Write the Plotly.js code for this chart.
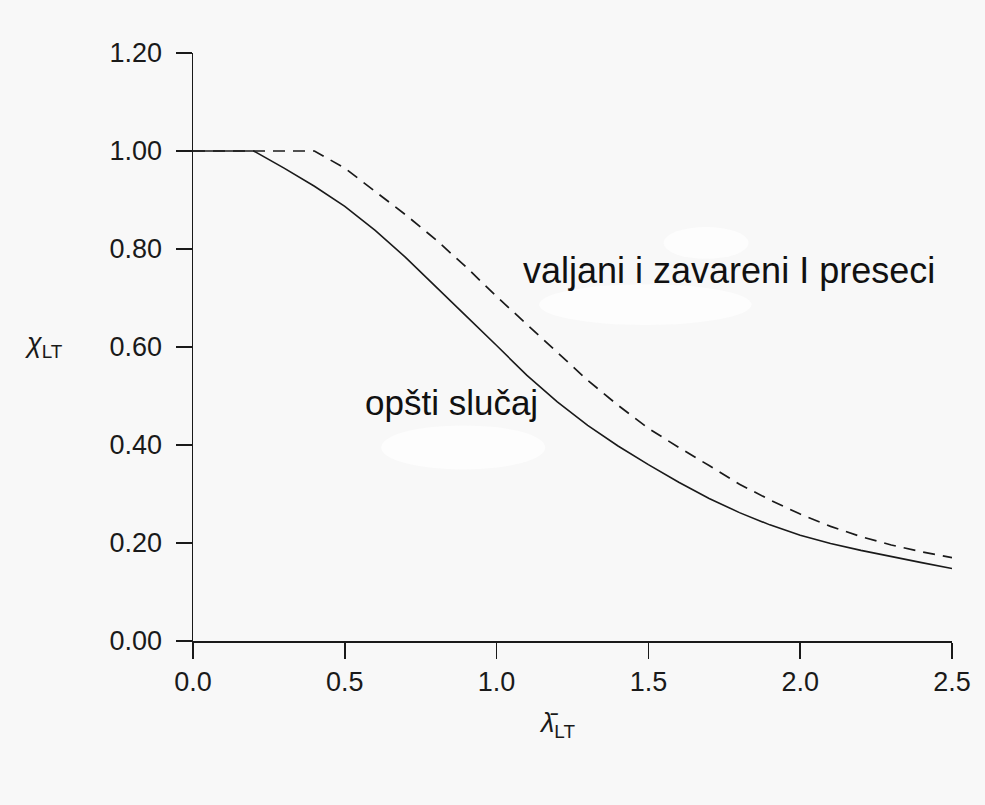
<!DOCTYPE html>
<html>
<head>
<meta charset="utf-8">
<script src="https://cdn.plot.ly/plotly-3.0.1.min.js"></script>
<style>html,body{margin:0;padding:0;background:#f8f8f8;}#chart{width:985px;height:805px;}</style>
</head>
<body>
<div id="chart"></div>
<script>
// lambda_LT values
const lambdaSolid = [0.0, 0.2, 0.3, 0.4, 0.5, 0.6, 0.7, 0.8, 0.9, 1.0, 1.1, 1.2, 1.3, 1.4, 1.5, 1.6, 1.7, 1.8, 1.9, 2.0, 2.1, 2.2, 2.3, 2.4, 2.5];
// "opšti slučaj" (general case)
const chiGeneral = [1.0, 1.0, 0.965, 0.928, 0.887, 0.838, 0.783, 0.724, 0.663, 0.603, 0.542, 0.488, 0.440, 0.398, 0.360, 0.324, 0.291, 0.262, 0.237, 0.216, 0.199, 0.185, 0.172, 0.160, 0.148];
const lambdaDashed = [0.0, 0.4, 0.5, 0.6, 0.7, 0.8, 0.9, 1.0, 1.1, 1.2, 1.3, 1.4, 1.5, 1.6, 1.7, 1.8, 1.9, 2.0, 2.1, 2.2, 2.3, 2.4, 2.5];
// "valjani i zavareni I preseci" (rolled and welded I sections)
const chiRolled = [1.0, 1.0, 0.965, 0.918, 0.870, 0.819, 0.763, 0.703, 0.645, 0.589, 0.532, 0.481, 0.434, 0.395, 0.358, 0.320, 0.288, 0.259, 0.234, 0.213, 0.196, 0.182, 0.170];

const xTicks = [0.0, 0.5, 1.0, 1.5, 2.0, 2.5];
const xTickText = ['0.0', '0.5', '1.0', '1.5', '2.0', '2.5'];
const yTicks = [0.0, 0.2, 0.4, 0.6, 0.8, 1.0, 1.2];
const yTickText = ['0.00', '0.20', '0.40', '0.60', '0.80', '1.00', '1.20'];

const font = 'Liberation Sans, Arial, Helvetica, sans-serif';
const ink = '#1a1a1a';

const traces = [
  {x: lambdaDashed, y: chiRolled, mode: 'lines', line: {color: ink, width: 1.7, dash: '12px,8px'}, hoverinfo: 'skip'},
  {x: lambdaSolid, y: chiGeneral, mode: 'lines', line: {color: ink, width: 1.6}, hoverinfo: 'skip'}
];

const blob = {type: 'circle', layer: 'below', fillcolor: '#fdfdfd', line: {width: 0}, xref: 'x', yref: 'y'};

const layout = {
  width: 985, height: 805,
  paper_bgcolor: '#f8f8f8', plot_bgcolor: '#f8f8f8',
  margin: {l: 193, r: 33, t: 53, b: 164},
  showlegend: false,
  font: {family: font, color: ink, size: 27},
  xaxis: {
    range: [0, 2.5], showgrid: false, zeroline: false,
    showline: true, linecolor: ink, linewidth: 1.5,
    ticks: 'outside', ticklen: 16, tickwidth: 1.5, tickcolor: ink,
    tickvals: xTicks, ticktext: xTickText,
    tickfont: {family: font, size: 27, color: ink}, ticklabelstandoff: 0
  },
  yaxis: {
    range: [0, 1.2], showgrid: false, zeroline: false,
    showline: true, linecolor: ink, linewidth: 1.5,
    ticks: 'outside', ticklen: 16, tickwidth: 1.5, tickcolor: ink,
    tickvals: yTicks, ticktext: yTickText,
    tickfont: {family: font, size: 27, color: ink}, ticklabelstandoff: 8
  },
  shapes: [
    Object.assign({}, blob, {x0: 1.14, x1: 1.84, y0: 0.645, y1: 0.728}),
    Object.assign({}, blob, {x0: 1.55, x1: 1.83, y0: 0.780, y1: 0.845}),
    Object.assign({}, blob, {x0: 0.62, x1: 1.16, y0: 0.350, y1: 0.440})
  ],
  annotations: [
    {xref: 'x', yref: 'y', x: 1.08, y: 0.756, xanchor: 'left', yanchor: 'middle', showarrow: false,
     text: 'valjani i zavareni I preseci', font: {family: font, size: 36, color: '#111'}},
    {xref: 'x', yref: 'y', x: 0.56, y: 0.486, xanchor: 'left', yanchor: 'middle', showarrow: false,
     text: 'opšti slučaj', font: {family: font, size: 35, color: '#111'}},
    {xref: 'paper', yref: 'y', x: -0.224, y: 0.605, xanchor: 'left', yanchor: 'middle', showarrow: false,
     text: '<i>χ</i><sub>LT</sub>', font: {family: font, size: 27, color: ink}},
    {xref: 'x', yref: 'paper', x: 1.2, y: -0.11, xanchor: 'center', yanchor: 'top', showarrow: false,
     text: '<i>λ̄</i><sub>LT</sub>', font: {family: font, size: 27, color: ink}}
  ]
};

Plotly.newPlot('chart', traces, layout, {staticPlot: true, displayModeBar: false});
</script>
</body>
</html>
